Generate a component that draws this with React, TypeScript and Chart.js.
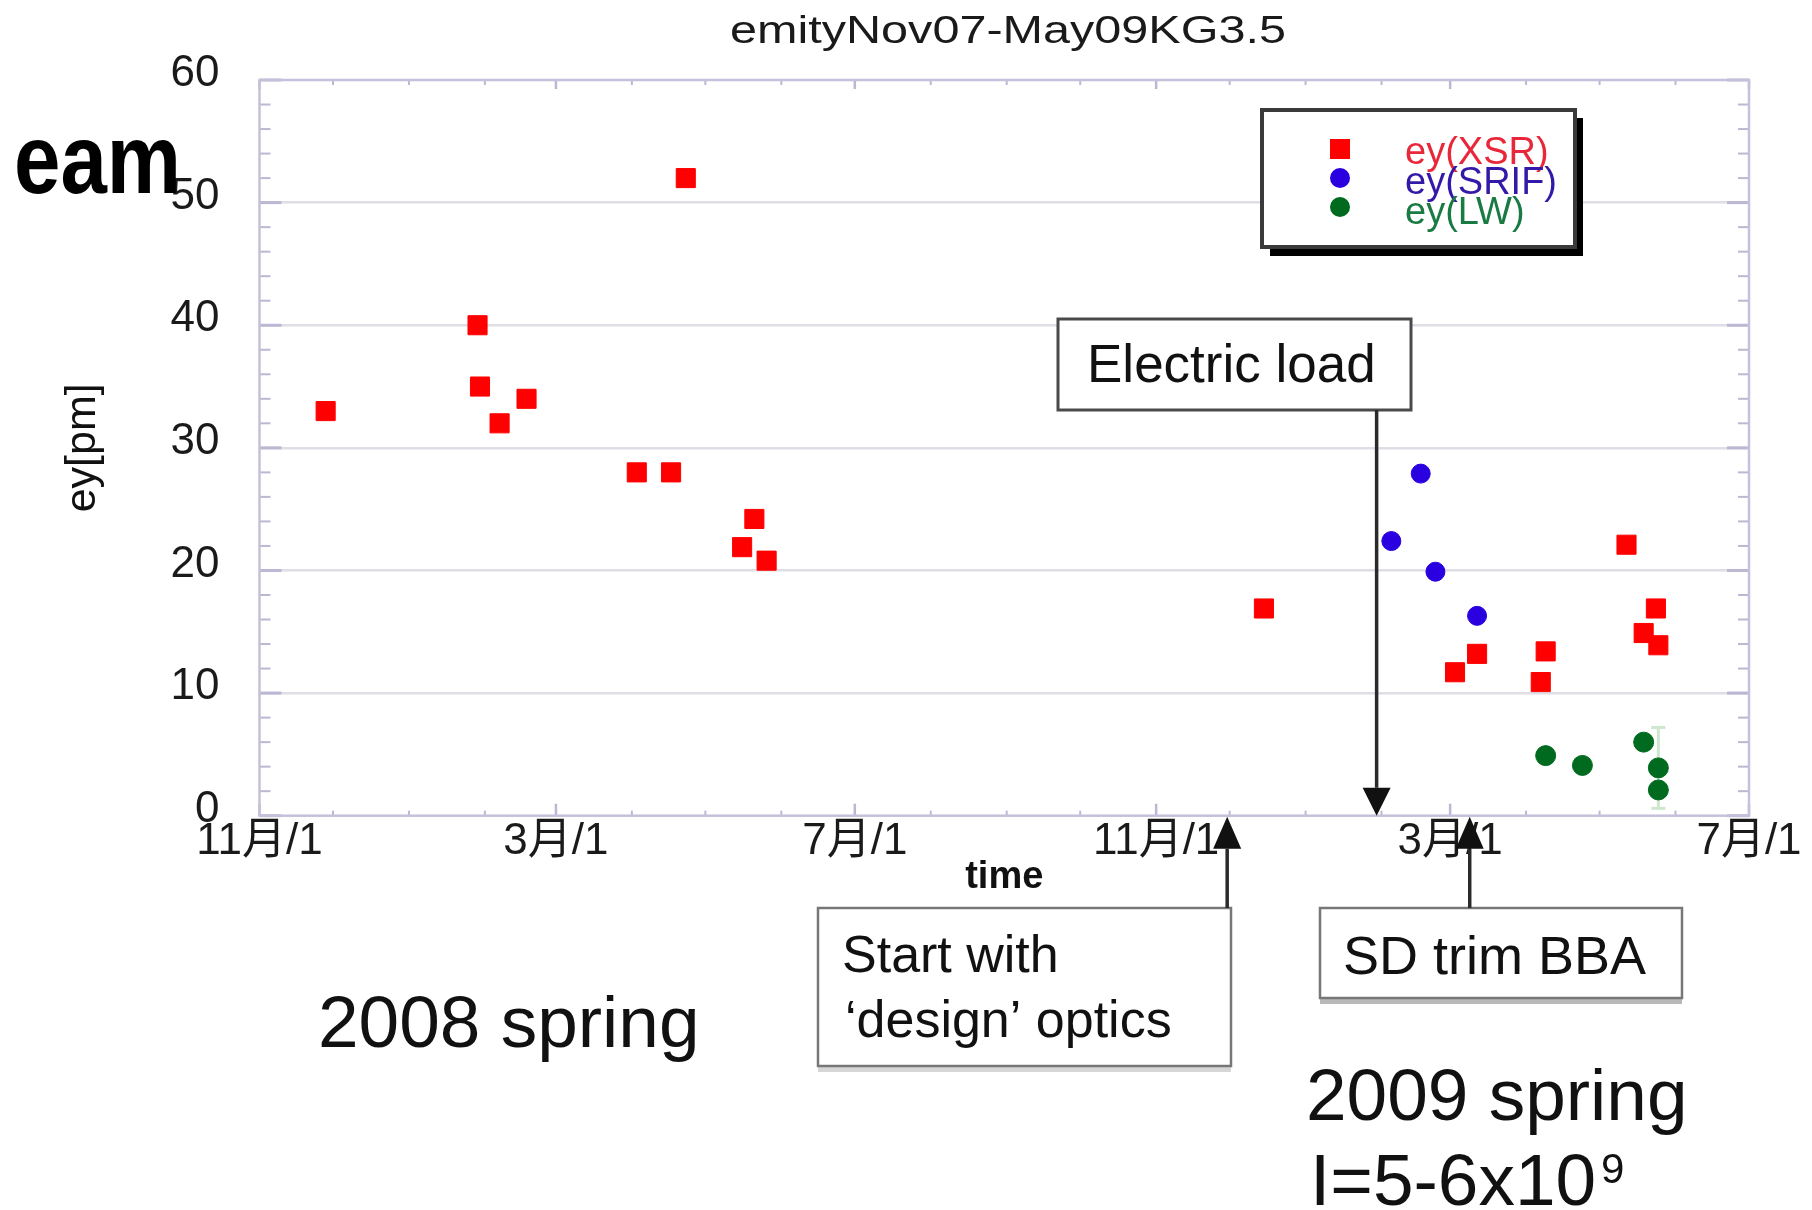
import React, { useEffect, useRef } from 'react';
import { Chart, registerables } from 'chart.js';

Chart.register(...registerables);

const FONT = '"Liberation Sans", "Noto Sans CJK JP", Arial, sans-serif';

// ---- data ----
const chartTitle = 'emityNov07-May09KG3.5';
const seriesLabels = ['ey(XSR)', 'ey(SRIF)', 'ey(LW)'];

const xsrDates = [
  '2007-11-28', '2008-01-29', '2008-01-30', '2008-02-07', '2008-02-18',
  '2008-04-03', '2008-04-17', '2008-04-23', '2008-05-16', '2008-05-21',
  '2008-05-26', '2008-12-15', '2009-03-03', '2009-03-12', '2009-04-07',
  '2009-04-09', '2009-05-12', '2009-05-19', '2009-05-24', '2009-05-25',
];
const xsrValues = [
  33, 40, 35, 32, 34,
  28, 28, 52, 21.9, 24.2,
  20.8, 16.9, 11.7, 13.2, 10.9,
  13.4, 22.1, 14.9, 16.9, 13.9,
];

const srifDates = ['2009-02-05', '2009-02-17', '2009-02-23', '2009-03-12'];
const srifValues = [22.4, 27.9, 19.9, 16.3];

const lwDates = ['2009-04-09', '2009-04-24', '2009-05-19', '2009-05-25', '2009-05-25'];
const lwValues = [4.9, 4.1, 6.0, 3.9, 2.1];
const lwErrors = [0, 0, 0, 3.3, 0];

const xStartDate = '2007-11-01';
const xEndDate = '2009-07-01';
const xTickDates = [
  '2007-11-01', '2007-12-01', '2008-01-01', '2008-02-01', '2008-03-01',
  '2008-04-01', '2008-05-01', '2008-06-01', '2008-07-01', '2008-08-01',
  '2008-09-01', '2008-10-01', '2008-11-01', '2008-12-01', '2009-01-01',
  '2009-02-01', '2009-03-01', '2009-04-01', '2009-05-01', '2009-06-01',
  '2009-07-01',
];
const xTickLabels = [
  '11月/1', '', '', '', '3月/1',
  '', '', '', '7月/1', '',
  '', '', '11月/1', '', '',
  '', '3月/1', '', '', '',
  '7月/1',
];

const yMin = 0;
const yMax = 60;
const yMinorStep = 2;
const yLabelStep = 10;

const eventDates = {
  design: '2008-11-30',
  electric: '2009-01-30',
  sdTrim: '2009-03-09',
};

const ORIGIN = Date.UTC(2007, 10, 1);
function dayOf(s: string): number {
  const [yy, mm, dd] = s.split('-').map(Number);
  return (Date.UTC(yy, mm - 1, dd) - ORIGIN) / 86400000;
}

// ---- drawing helpers ----
function drawText(
  ctx: CanvasRenderingContext2D,
  str: string,
  x: number,
  y: number,
  font: string,
  color: string,
  targetWidth?: number
) {
  ctx.save();
  ctx.font = font;
  ctx.fillStyle = color;
  ctx.textAlign = 'left';
  ctx.textBaseline = 'alphabetic';
  if (targetWidth) {
    const w = ctx.measureText(str).width;
    ctx.translate(x, y);
    ctx.scale(targetWidth / w, 1);
    ctx.fillText(str, 0, 0);
  } else {
    ctx.fillText(str, x, y);
  }
  ctx.restore();
}

function seg(ctx: CanvasRenderingContext2D, x1: number, y1: number, x2: number, y2: number) {
  ctx.beginPath();
  ctx.moveTo(x1, y1);
  ctx.lineTo(x2, y2);
  ctx.stroke();
}

function tri(ctx: CanvasRenderingContext2D, pts: number[][]) {
  ctx.beginPath();
  ctx.moveTo(pts[0][0], pts[0][1]);
  ctx.lineTo(pts[1][0], pts[1][1]);
  ctx.lineTo(pts[2][0], pts[2][1]);
  ctx.closePath();
  ctx.fill();
}

function box(
  ctx: CanvasRenderingContext2D,
  x: number,
  y: number,
  w: number,
  h: number,
  stroke: string,
  lw: number,
  shadow?: string
) {
  if (shadow) {
    ctx.fillStyle = shadow;
    ctx.fillRect(x, y + h, w, 6);
  }
  ctx.fillStyle = '#ffffff';
  ctx.fillRect(x, y, w, h);
  ctx.strokeStyle = stroke;
  ctx.lineWidth = lw;
  ctx.strokeRect(x, y, w, h);
}

const decorPlugin = {
  id: 'decor',
  beforeDatasetsDraw(chart: any) {
    const { ctx, chartArea: a } = chart;
    const xs = chart.scales.x;
    const ys = chart.scales.y;
    ctx.save();
    ctx.strokeStyle = '#bdb7d3';
    ys.ticks.forEach((t: any) => {
      const py = ys.getPixelForValue(t.value);
      const major = t.value % yLabelStep === 0;
      ctx.lineWidth = major ? 3 : 2;
      const len = major ? 22 : 11;
      seg(ctx, a.left, py, a.left + len, py);
      seg(ctx, a.right, py, a.right - len, py);
    });
    xs.ticks.forEach((t: any, i: number) => {
      const px = xs.getPixelForValue(t.value);
      const major = xTickLabels[i] !== '';
      ctx.lineWidth = major ? 2.5 : 2;
      seg(ctx, px, a.bottom, px, a.bottom - (major ? 12 : 5));
      seg(ctx, px, a.top, px, a.top + (major ? 9 : 5));
    });
    ctx.strokeStyle = '#c6c0da';
    ctx.lineWidth = 2.5;
    ctx.strokeRect(a.left, a.top, a.right - a.left, a.bottom - a.top);

    // error bars of LW series
    ctx.strokeStyle = '#cfe6cf';
    ctx.lineWidth = 3;
    lwDates.forEach((d, i) => {
      const e = lwErrors[i];
      if (!e) return;
      const px = xs.getPixelForValue(dayOf(d));
      const pt = ys.getPixelForValue(lwValues[i] + e);
      const pb = ys.getPixelForValue(lwValues[i] - e);
      seg(ctx, px, pt, px, pb);
      seg(ctx, px - 7, pt, px + 7, pt);
      seg(ctx, px - 7, pb, px + 7, pb);
    });
    ctx.restore();
  },
  afterDraw(chart: any) {
    const { ctx, chartArea: a } = chart;
    const xs = chart.scales.x;
    ctx.save();

    // title and free texts
    drawText(ctx, chartTitle, 730, 43, `38px ${FONT}`, '#1a1a1a', 556);
    drawText(ctx, 'eam', 14, 193, `bold 98px ${FONT}`, '#000000', 167);
    drawText(ctx, '2008 spring', 318, 1047, `73px ${FONT}`, '#111111');
    drawText(ctx, '2009 spring', 1306, 1120, `73px ${FONT}`, '#111111');
    drawText(ctx, 'I=5-6x10', 1310, 1205, `73px ${FONT}`, '#111111');
    drawText(ctx, '9', 1601, 1183, `42px ${FONT}`, '#111111');

    // legend
    ctx.fillStyle = '#000000';
    ctx.fillRect(1270, 118, 313, 138);
    box(ctx, 1262, 110, 313, 137, '#3a3a3a', 4);
    const ds = chart.data.datasets;
    const markerY = [149, 178, 207];
    const textY = [164, 194, 224];
    const textColors = ['#e8283a', '#3418a8', '#1a7a44'];
    ds.forEach((d: any, i: number) => {
      ctx.fillStyle = d.backgroundColor;
      if (d.pointStyle === 'rect') {
        ctx.fillRect(1330, markerY[i] - 10, 20, 20);
      } else {
        ctx.beginPath();
        ctx.arc(1340, markerY[i], 10, 0, Math.PI * 2);
        ctx.fill();
      }
      drawText(ctx, d.label, 1405, textY[i], `38px ${FONT}`, textColors[i]);
    });

    // Electric load annotation
    const xe = xs.getPixelForValue(dayOf(eventDates.electric));
    box(ctx, 1058, 319, 353, 91, '#4a4a4a', 3);
    drawText(ctx, 'Electric load', 1087, 382, `53px ${FONT}`, '#111111');
    ctx.strokeStyle = '#2a2a2a';
    ctx.fillStyle = '#111111';
    ctx.lineWidth = 3.5;
    seg(ctx, xe, 410, xe, a.bottom - 28);
    tri(ctx, [[xe - 14, a.bottom - 28], [xe + 14, a.bottom - 28], [xe, a.bottom]]);

    // Start with 'design' optics
    const xd = xs.getPixelForValue(dayOf(eventDates.design));
    box(ctx, 818, 908, 413, 158, '#777777', 2.5, '#d6d6d6');
    drawText(ctx, 'Start with', 842, 972, `52px ${FONT}`, '#111111');
    drawText(ctx, '\u2018design\u2019 optics', 845, 1037, `52px ${FONT}`, '#111111');
    ctx.strokeStyle = '#2a2a2a';
    ctx.fillStyle = '#111111';
    ctx.lineWidth = 3.5;
    seg(ctx, xd, a.bottom + 33, xd, 908);
    tri(ctx, [[xd - 14, a.bottom + 33], [xd + 14, a.bottom + 33], [xd, a.bottom + 1]]);

    // SD trim BBA
    const xt = xs.getPixelForValue(dayOf(eventDates.sdTrim));
    box(ctx, 1320, 908, 362, 90, '#777777', 2.5, '#b8b8b8');
    drawText(ctx, 'SD trim BBA', 1343, 974, `54px ${FONT}`, '#111111');
    ctx.strokeStyle = '#2a2a2a';
    ctx.fillStyle = '#111111';
    ctx.lineWidth = 3.5;
    seg(ctx, xt, a.bottom + 33, xt, 908);
    tri(ctx, [[xt - 14, a.bottom + 33], [xt + 14, a.bottom + 33], [xt, a.bottom + 1]]);

    ctx.restore();
  },
};

export default function App() {
  const ref = useRef<HTMLCanvasElement | null>(null);

  useEffect(() => {
    if (!ref.current) return;
    const chart = new Chart(ref.current, {
      type: 'scatter',
      data: {
        datasets: [
          {
            label: seriesLabels[0],
            data: xsrDates.map((d, i) => ({ x: dayOf(d), y: xsrValues[i] })),
            pointStyle: 'rect',
            pointRadius: 13.5,
            backgroundColor: '#ff0000',
            borderColor: '#ff0000',
            borderWidth: 1,
            showLine: false,
          },
          {
            label: seriesLabels[1],
            data: srifDates.map((d, i) => ({ x: dayOf(d), y: srifValues[i] })),
            pointStyle: 'circle',
            pointRadius: 9.5,
            backgroundColor: '#2b00e0',
            borderColor: '#2b00e0',
            borderWidth: 1,
            showLine: false,
          },
          {
            label: seriesLabels[2],
            data: lwDates.map((d, i) => ({ x: dayOf(d), y: lwValues[i] })),
            pointStyle: 'circle',
            pointRadius: 10,
            backgroundColor: '#006b1f',
            borderColor: '#006b1f',
            borderWidth: 1,
            showLine: false,
          },
        ],
      },
      options: {
        responsive: false,
        animation: false,
        devicePixelRatio: 1,
        events: [],
        layout: { padding: { left: 57, top: 80, right: 63, bottom: 304.3 } },
        plugins: {
          legend: { display: false },
          title: { display: false },
          tooltip: { enabled: false },
        },
        scales: {
          x: {
            type: 'linear',
            position: 'bottom',
            min: dayOf(xStartDate),
            max: dayOf(xEndDate),
            afterBuildTicks: (s: any) => {
              s.ticks = xTickDates.map((d) => ({ value: dayOf(d) }));
            },
            afterFit: (s: any) => {
              s.height = 90;
              s.paddingLeft = 0;
              s.paddingRight = 0;
            },
            grid: { display: false, drawTicks: false },
            border: { display: false },
            ticks: {
              autoSkip: false,
              maxRotation: 0,
              minRotation: 0,
              padding: 0,
              color: '#1a1a1a',
              font: { size: 44, family: FONT },
              callback: (_v: any, i: number) => xTickLabels[i] ?? '',
            },
            title: {
              display: true,
              text: 'time',
              color: '#111111',
              font: { size: 38, weight: 'bold', family: FONT },
              padding: { top: 0, bottom: 5 },
            },
          },
          y: {
            type: 'linear',
            min: yMin,
            max: yMax,
            afterBuildTicks: (s: any) => {
              const t: any[] = [];
              for (let v = yMin; v <= yMax; v += yMinorStep) t.push({ value: v });
              s.ticks = t;
            },
            afterFit: (s: any) => {
              s.width = 259.5 - 57;
              s.paddingTop = 0;
              s.paddingBottom = 0;
            },
            grid: {
              drawTicks: false,
              lineWidth: 2.5,
              color: (c: any) =>
                c.tick && c.tick.value % yLabelStep === 0 && c.tick.value > yMin && c.tick.value < yMax
                  ? '#dedee6'
                  : 'rgba(0,0,0,0)',
            },
            border: { display: false },
            ticks: {
              autoSkip: false,
              padding: 40,
              labelOffset: -6,
              color: '#1a1a1a',
              font: { size: 44, family: FONT },
              callback: (v: any) => (Number(v) % yLabelStep === 0 ? String(v) : ''),
            },
            title: {
              display: true,
              text: 'ey[pm]',
              color: '#111111',
              font: { size: 43, family: FONT },
              padding: { top: 0, bottom: 0 },
            },
          },
        },
      },
      plugins: [decorPlugin],
    } as any);
    return () => chart.destroy();
  }, []);

  return (
    <canvas
      ref={ref}
      width={1812}
      height={1210}
      style={{ position: 'absolute', left: 0, top: 0, width: 1812, height: 1210 }}
    />
  );
}
